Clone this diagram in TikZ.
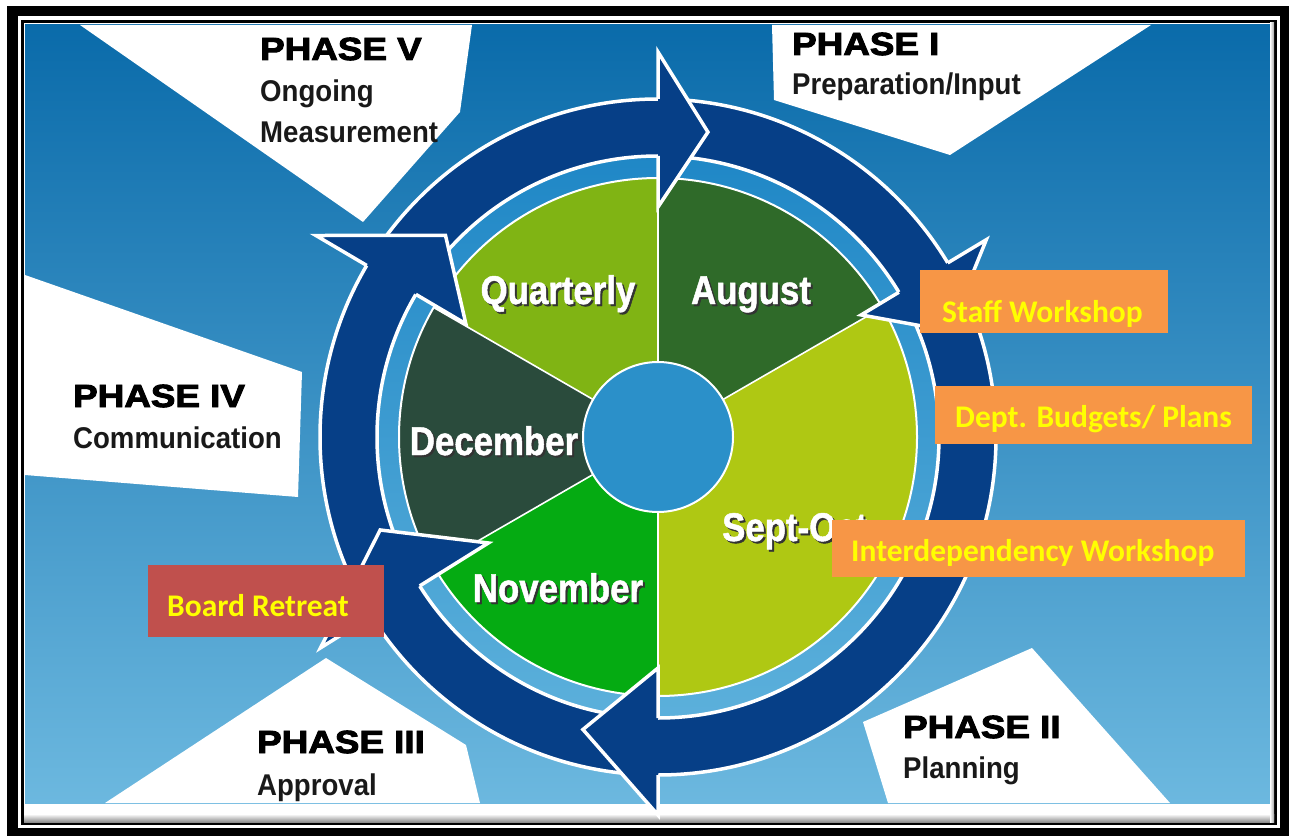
\documentclass[tikz,border=0pt]{standalone}
\usepackage{fontspec}
\setmainfont{Liberation Sans}
\newfontfamily\monthfont{Liberation Sans}[FakeStretch=0.87,FakeBold=1.2]
\newfontfamily\phasefont{Liberation Sans}[FakeStretch=1.15,FakeBold=3]
\newfontfamily\subfont{Liberation Sans}[FakeStretch=0.92]
\newfontfamily\boxfont{Carlito}
\usetikzlibrary{calc}
\definecolor{ringblue}{HTML}{063F87}
\definecolor{bgtop}{HTML}{0A6BAA}
\definecolor{bgmid}{HTML}{2088C6}
\definecolor{bgbot}{HTML}{6CB8DF}
\definecolor{bandtop}{HTML}{1F87C6}
\definecolor{bandbot}{HTML}{5CB0DB}
\definecolor{hubblue}{HTML}{2B90C9}
\definecolor{augcol}{HTML}{2F6A29}
\definecolor{sepcol}{HTML}{AFC813}
\definecolor{novcol}{HTML}{05AB12}
\definecolor{deccol}{HTML}{2A4B3C}
\definecolor{qtrcol}{HTML}{80B414}
\definecolor{boxorange}{HTML}{F79646}
\definecolor{boxred}{HTML}{C0504D}
\definecolor{boxtext}{HTML}{FFFF00}
\tikzset{
  monthlabel/.style={text=white, font=\monthfont\bfseries\fontsize{40}{44}\selectfont, inner sep=0pt, anchor=base},
  monthshadow/.style={monthlabel, text=black!80},
  phasetitle/.style={font=\phasefont\bfseries\fontsize{32}{36}\selectfont, anchor=base west, inner sep=0pt},
  phasesub/.style={font=\subfont\bfseries\fontsize{30}{34}\selectfont, text=black!90, anchor=base west, inner sep=0pt},
  notebox/.style={fill=boxorange, draw=none, anchor=north west, inner sep=0pt},
  notetext/.style={text=boxtext, font=\boxfont\bfseries\fontsize{31.5}{34}\selectfont, anchor=base west, inner sep=0pt},
  whiteline/.style={white, line width=3.5pt, line join=miter},
  ray/.style={fill=white}
}
\newcommand{\myhead}[5]{%
  \fill[ringblue] ($(C)+(#1:#3)$) -- ($(C)+(#4:#5)$) -- ($(C)+(#1:#2)$) -- cycle;
  \draw[whiteline] ($(C)+(#1:338)$) -- ($(C)+(#1:#3)$) -- ($(C)+(#4:#5)$) -- ($(C)+(#1:#2)$) -- ($(C)+(#1:281)$);
}
\begin{document}
\begin{tikzpicture}[x=1pt,y=-1pt]
\useasboundingbox (0,0) rectangle (1290,837);
\fill[white] (0,0) rectangle (1290,837);
% frame
\fill[black] (7,6) rectangle (1289,836);
\fill[white] (18,16) rectangle (1280,828);
\fill[black] (21,20) rectangle (1277,825);
\fill[white] (24,23) rectangle (1274,822);
% background
\shade[top color=bgtop, middle color=bgmid, bottom color=bgbot] (25,25) rectangle (1270,803);
\shade[top color=white, bottom color=black!45] (24,814) rectangle (1274,822);
\shade[left color=white, right color=black!35] (1270,23) rectangle (1274,822);
% white rays
\fill[ray] (80,25) -- (472,25) -- (460,112) -- (363,222) -- cycle;
\fill[ray] (772,25) -- (1151,25) -- (950,155) -- (774,100) -- cycle;
\fill[ray] (25,275) -- (302,372) -- (298,497) -- (25,475) -- cycle;
\fill[ray] (326,658) -- (105,803) -- (480,803) -- (466,745) -- cycle;
\fill[ray] (1032,648) -- (863,722) -- (888,803) -- (1170,803) -- cycle;
% wheel
\coordinate (C) at (658,437);
\shade[top color=bandtop, bottom color=bandbot] (C) circle[radius=283];
\fill[ringblue, even odd rule] (C) circle[radius=338] (C) circle[radius=281];
\draw[white, line width=3.5pt] (C) circle[radius=338] (C) circle[radius=281];
% pie
\fill[augcol] (C) -- ++(-30:259) arc[start angle=-30, end angle=-90, radius=259] -- cycle;
\fill[sepcol] (C) -- ++(90:259) arc[start angle=90, end angle=-30, radius=259] -- cycle;
\fill[novcol] (C) -- ++(150:259) arc[start angle=150, end angle=90, radius=259] -- cycle;
\fill[deccol] (C) -- ++(-150:259) arc[start angle=-150, end angle=-210, radius=259] -- cycle;
\fill[qtrcol] (C) -- ++(-90:259) arc[start angle=-90, end angle=-150, radius=259] -- cycle;
\draw[white, line width=1.6pt] (C) -- ++(-90:259) (C) -- ++(-30:259) (C) -- ++(90:259) (C) -- ++(150:259) (C) -- ++(-150:259);
\draw[white, line width=2pt] (C) circle[radius=259];
\fill[hubblue] (C) circle[radius=75];
\draw[white, line width=2pt] (C) circle[radius=75];
% arrow heads
\myhead{-90}{230}{385}{-80.7}{309}
\myhead{-31}{237}{383}{-20}{310}
\myhead{90}{231}{378}{104.4}{302}
\myhead{148}{200}{398}{161.5}{293}
\myhead{-149.5}{223}{397}{-136.5}{293}
% month labels
\node[monthshadow] (qs) at (560,306) {Quarterly};
\node[monthlabel] (q) at (558,304) {Quarterly};
\node[monthshadow] (as) at (753,306) {August};
\node[monthlabel] (a) at (751,304) {August};
\node[monthshadow] (ds) at (496,457) {December};
\node[monthlabel] (d) at (494,455) {December};
\node[monthshadow] (ns) at (560,604) {November};
\node[monthlabel] (n) at (558,602) {November};
\node[monthshadow, anchor=base west] (ss) at (724,543) {Sept-Oct};
\node[monthlabel, anchor=base west] (s) at (722,541) {Sept-Oct};
% phase texts
\node[phasetitle] (p5) at (260,60) {PHASE V};
\node[phasesub] (p5a) at (260,102) {Ongoing};
\node[phasesub] (p5b) at (260,143) {Measurement};
\node[phasetitle] (p1) at (792,55) {PHASE I};
\node[phasesub] (p1a) at (792,95) {Preparation/Input};
\node[phasetitle] (p4) at (73,407) {PHASE IV};
\node[phasesub] (p4a) at (73,448) {Communication};
\node[phasetitle] (p3) at (257,753) {PHASE III};
\node[phasesub] (p3a) at (257,795) {Approval};
\node[phasetitle] (p2) at (903,738) {PHASE II};
\node[phasesub] (p2a) at (903,778) {Planning};
% note boxes
\node[notebox, minimum width=248pt, minimum height=63pt] (b1) at (920,270) {};
\node[notetext] (t1) at (942,322) {Staff Workshop};
\node[notebox, minimum width=317pt, minimum height=58pt] (b2) at (935,386) {};
\node[notetext] (t2) at (955,427) {Dept. Budgets/ Plans};
\node[notebox, minimum width=413pt, minimum height=57pt] (b3) at (832,520) {};
\node[notetext] (t3) at (851,561) {Interdependency Workshop};
\node[notebox, fill=boxred, minimum width=236pt, minimum height=72pt] (b4) at (148,565) {};
\node[notetext] (t4) at (167,616) {Board Retreat};
\end{tikzpicture}
\end{document}
